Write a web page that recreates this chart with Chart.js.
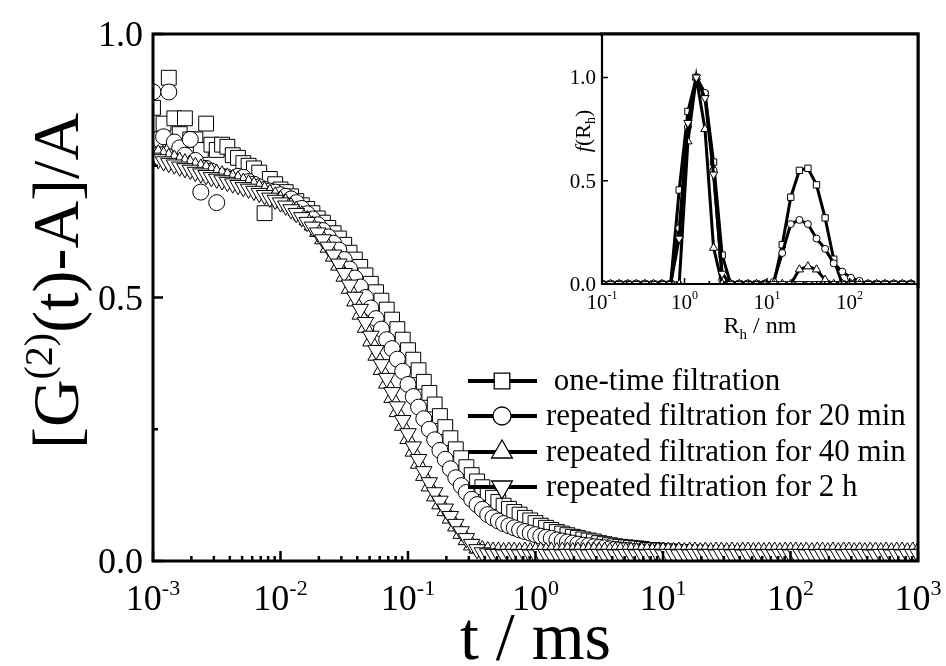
<!DOCTYPE html>
<html>
<head>
<meta charset="utf-8">
<script src="https://cdn.jsdelivr.net/npm/chart.js@4.4.1/dist/chart.umd.min.js"></script>
<style>
  html, body { margin: 0; padding: 0; background: #fff; }
  #wrap { position: relative; width: 946px; height: 666px; overflow: hidden; }
  canvas { position: absolute; }
  #mainChart { left: 0; top: 0; }
  #insetChart { left: 530px; top: 20px; }
</style>
</head>
<body>
<div id="wrap">
  <canvas id="mainChart" width="946" height="666"></canvas>
  <canvas id="insetChart" width="400" height="340"></canvas>
</div>
<script>
// ------------------------------------------------------------
// data : main plot, correlation function vs. t (ms)
// ------------------------------------------------------------
const tValues = [
  0.00100, 0.00110, 0.00121, 0.00133, 0.00147, 0.00162, 0.00178, 0.00196, 0.00215, 0.00237, 0.00261, 0.00287, 0.00316, 0.00348, 0.00383, 0.00422, 0.00464, 0.00511, 0.00562, 0.00619, 0.00681, 0.00750, 0.00825, 0.00909,
  0.0100, 0.0110, 0.0121, 0.0133, 0.0147, 0.0162, 0.0178, 0.0196, 0.0215, 0.0237, 0.0261, 0.0287, 0.0316, 0.0348, 0.0383, 0.0422, 0.0464, 0.0511, 0.0562, 0.0619, 0.0681, 0.0750, 0.0825, 0.0909,
  0.100, 0.110, 0.121, 0.133, 0.147, 0.162, 0.178, 0.196, 0.215, 0.237, 0.261, 0.287, 0.316, 0.348, 0.383, 0.422, 0.464, 0.511, 0.562, 0.619, 0.681, 0.750, 0.825, 0.909,
  1.00, 1.10, 1.21, 1.33, 1.47, 1.62, 1.78, 1.96, 2.15, 2.37, 2.61, 2.87, 3.16, 3.48, 3.83, 4.22, 4.64, 5.11, 5.62, 6.19, 6.81, 7.50, 8.25, 9.09,
  10.0, 11.0, 12.1, 13.3, 14.7, 16.2, 17.8, 19.6, 21.5, 23.7, 26.1, 28.7, 31.6, 34.8, 38.3, 42.2, 46.4, 51.1, 56.2, 61.9, 68.1, 75.0, 82.5, 90.9,
  100, 110, 121, 133, 147, 162, 178, 196, 215, 237, 261, 287, 316, 348, 383, 422, 464, 511, 562, 619, 681, 750, 825, 909,
  1000
];

const gOneTime = [
  0.86, 0.80, 0.83, 0.917, 0.84, 0.81, 0.84, 0.80, 0.80, 0.78, 0.83, 0.79, 0.78, 0.79, 0.786, 0.77, 0.765, 0.755, 0.75, 0.745, 0.737, 0.66, 0.725, 0.715,
  0.705, 0.70, 0.692, 0.683, 0.675, 0.668, 0.66, 0.65, 0.642, 0.632, 0.622, 0.612, 0.60, 0.585, 0.572, 0.558, 0.542, 0.526, 0.51, 0.494, 0.477, 0.458, 0.44, 0.42,
  0.40, 0.382, 0.362, 0.34, 0.319, 0.297, 0.275, 0.254, 0.233, 0.212, 0.195, 0.178, 0.163, 0.151, 0.14, 0.129, 0.12, 0.112, 0.105, 0.099, 0.093, 0.088, 0.082, 0.077,
  0.072, 0.067, 0.063, 0.059, 0.055, 0.052, 0.049, 0.046, 0.044, 0.041, 0.039, 0.037, 0.034, 0.032, 0.030, 0.028, 0.027, 0.026, 0.025, 0.024, 0.023, 0.021, 0.021, 0.020,
  0.019, 0.018, 0.018, 0.017, 0.017, 0.016, 0.016, 0.016, 0.015, 0.015, 0.015, 0.014, 0.015, 0.014, 0.014, 0.013, 0.014, 0.013, 0.013, 0.013, 0.012, 0.013, 0.012, 0.012,
  0.013, 0.012, 0.012, 0.011, 0.012, 0.012, 0.011, 0.012, 0.011, 0.011, 0.012, 0.011, 0.011, 0.011, 0.010, 0.011, 0.011, 0.010, 0.011, 0.011, 0.010, 0.011, 0.010, 0.011,
  0.011
];

const g20min = [
  0.89, 0.80, 0.805, 0.89, 0.795, 0.784, 0.77, 0.80, 0.76, 0.70, 0.745, 0.74, 0.68, 0.73, 0.728, 0.725, 0.73, 0.728, 0.72, 0.715, 0.71, 0.705, 0.702, 0.70,
  0.695, 0.692, 0.687, 0.68, 0.669, 0.659, 0.649, 0.638, 0.627, 0.615, 0.603, 0.59, 0.572, 0.554, 0.537, 0.52, 0.50, 0.48, 0.46, 0.44, 0.42, 0.403, 0.383, 0.36,
  0.335, 0.312, 0.292, 0.27, 0.25, 0.23, 0.21, 0.193, 0.175, 0.158, 0.143, 0.13, 0.117, 0.107, 0.098, 0.088, 0.082, 0.076, 0.071, 0.067, 0.063, 0.059, 0.056, 0.053,
  0.050, 0.047, 0.045, 0.043, 0.040, 0.038, 0.036, 0.034, 0.032, 0.030, 0.029, 0.027, 0.026, 0.025, 0.023, 0.022, 0.021, 0.020, 0.018, 0.018, 0.017, 0.016, 0.015, 0.015,
  0.014, 0.014, 0.013, 0.013, 0.012, 0.013, 0.012, 0.012, 0.011, 0.012, 0.011, 0.011, 0.012, 0.011, 0.010, 0.011, 0.011, 0.010, 0.011, 0.010, 0.010, 0.011, 0.010, 0.010,
  0.011, 0.010, 0.010, 0.009, 0.010, 0.010, 0.009, 0.010, 0.010, 0.011, 0.010, 0.010, 0.009, 0.010, 0.010, 0.009, 0.010, 0.010, 0.011, 0.010, 0.010, 0.009, 0.010, 0.010,
  0.010
];

const g40min = [
  0.775, 0.772, 0.768, 0.765, 0.762, 0.758, 0.755, 0.752, 0.748, 0.745, 0.742, 0.738, 0.735, 0.732, 0.728, 0.725, 0.722, 0.718, 0.715, 0.711, 0.706, 0.702, 0.697, 0.692,
  0.685, 0.679, 0.672, 0.665, 0.656, 0.647, 0.637, 0.625, 0.611, 0.595, 0.578, 0.561, 0.54, 0.517, 0.493, 0.468, 0.443, 0.417, 0.39, 0.363, 0.337, 0.31, 0.283, 0.257,
  0.232, 0.208, 0.185, 0.162, 0.142, 0.123, 0.108, 0.095, 0.081, 0.066, 0.052, 0.04, 0.030, 0.024, 0.021, 0.019, 0.018, 0.018, 0.017, 0.018, 0.018, 0.017, 0.018, 0.017,
  0.018, 0.018, 0.017, 0.018, 0.017, 0.018, 0.018, 0.017, 0.018, 0.017, 0.018, 0.018, 0.017, 0.018, 0.017, 0.018, 0.018, 0.017, 0.018, 0.017, 0.018, 0.018, 0.017, 0.018,
  0.018, 0.018, 0.017, 0.018, 0.017, 0.018, 0.018, 0.017, 0.018, 0.017, 0.018, 0.018, 0.017, 0.018, 0.017, 0.018, 0.018, 0.017, 0.018, 0.017, 0.018, 0.018, 0.017, 0.018,
  0.018, 0.018, 0.017, 0.018, 0.017, 0.018, 0.018, 0.017, 0.018, 0.017, 0.018, 0.018, 0.017, 0.018, 0.017, 0.018, 0.018, 0.017, 0.018, 0.017, 0.018, 0.018, 0.017, 0.018,
  0.018
];

const g2h = [
  0.765, 0.762, 0.758, 0.755, 0.752, 0.748, 0.745, 0.742, 0.738, 0.735, 0.732, 0.728, 0.725, 0.722, 0.719, 0.716, 0.713, 0.709, 0.706, 0.702, 0.698, 0.694, 0.689, 0.685,
  0.68, 0.674, 0.667, 0.66, 0.652, 0.643, 0.634, 0.623, 0.61, 0.596, 0.581, 0.564, 0.546, 0.524, 0.501, 0.478, 0.453, 0.427, 0.40, 0.373, 0.347, 0.32, 0.293, 0.267,
  0.242, 0.217, 0.193, 0.17, 0.149, 0.13, 0.114, 0.099, 0.085, 0.07, 0.056, 0.043, 0.032, 0.022, 0.016, 0.014, 0.013, 0.013, 0.012, 0.013, 0.013, 0.012, 0.013, 0.012,
  0.012, 0.013, 0.013, 0.012, 0.013, 0.012, 0.013, 0.013, 0.012, 0.013, 0.012, 0.013, 0.013, 0.012, 0.013, 0.012, 0.012, 0.013, 0.013, 0.012, 0.013, 0.012, 0.013, 0.013,
  0.012, 0.013, 0.013, 0.012, 0.013, 0.012, 0.013, 0.013, 0.012, 0.013, 0.012, 0.013, 0.013, 0.012, 0.013, 0.012, 0.012, 0.013, 0.013, 0.012, 0.013, 0.012, 0.013, 0.013,
  0.012, 0.013, 0.013, 0.012, 0.013, 0.012, 0.013, 0.013, 0.012, 0.013, 0.012, 0.013, 0.013, 0.012, 0.013, 0.012, 0.012, 0.013, 0.013, 0.012, 0.013, 0.012, 0.013, 0.013,
  0.013
];

// ------------------------------------------------------------
// data : inset, size distribution f(Rh) vs. Rh (nm)
// ------------------------------------------------------------
const rhValues = [
  0.100, 0.127, 0.161, 0.205, 0.260, 0.331, 0.420, 0.534, 0.679, 0.862,
  1.10, 1.39, 1.77, 2.25, 2.86, 3.63, 4.61, 5.86, 7.45, 9.46,
  12.0, 15.3, 19.4, 24.7, 31.3, 39.8, 50.6, 64.3, 81.7, 104,
  132, 168, 213, 270, 344, 437, 555
];
const fOneTime = [0, 0, 0, 0, 0, 0, 0, 0, 0, 0.455, 0.835, 1.0, 0.92, 0.59, 0.14, 0, 0, 0, 0, 0, 0, 0.19, 0.42, 0.55, 0.56, 0.48, 0.32, 0.12, 0, 0, 0, 0, 0, 0, 0, 0, 0];
const f20min   = [0, 0, 0, 0, 0, 0, 0, 0, 0, 0.27, 0.76, 1.0, 0.925, 0.55, 0.02, 0, 0, 0, 0, 0, 0.01, 0.15, 0.29, 0.31, 0.29, 0.22, 0.17, 0.10, 0.06, 0.03, 0.015, 0, 0, 0, 0, 0, 0];
const f40min   = [0, 0, 0, 0, 0, 0, 0, 0, 0, 0, 0.69, 1.0, 0.75, 0.175, 0, 0, 0, 0, 0, 0, 0, 0, 0, 0.07, 0.085, 0.07, 0.02, 0, 0, 0, 0, 0, 0, 0, 0, 0, 0];
const f2h      = [0, 0, 0, 0, 0, 0, 0, 0, 0, 0.22, 0.78, 1.0, 0.90, 0.53, 0.05, 0, 0, 0, 0, 0, 0, 0, 0, 0, 0, 0, 0, 0, 0, 0, 0, 0, 0, 0, 0, 0, 0];

// ------------------------------------------------------------
// labels / ticks
// ------------------------------------------------------------
const seriesLabels = [
  "one-time filtration",
  "repeated filtration for 20 min",
  "repeated filtration for 40 min",
  "repeated filtration for 2 h",
];
const xTickExps = [-3, -2, -1, 0, 1, 2, 3];
const yTickValues = [0, 0.5, 1.0];
const yTickLabels = ["0.0", "0.5", "1.0"];
const yMinorValues = [0.25, 0.75];
const insetXTickExps = [-1, 0, 1, 2];
const insetYTickValues = [0, 0.5, 1.0];
const insetYTickLabels = ["0.0", "0.5", "1.0"];

const SERIF = '"Liberation Serif", "Times New Roman", Times, serif';

// marker looks (same order as seriesLabels)
const markerStyles = [
  { style: "rect", rotation: 0, radius: 10.5, legendRadius: 11, insetRadius: 4.5 },
  { style: "circle", rotation: 0, radius: 8, legendRadius: 9, insetRadius: 3.5 },
  { style: "triangle", rotation: 0, radius: 9.5, legendRadius: 12, insetRadius: 4.8 },
  { style: "triangle", rotation: 180, radius: 9.5, legendRadius: 12, insetRadius: 4.8 },
];

// ------------------------------------------------------------
// helpers
// ------------------------------------------------------------
function toPoints(xs, ys) {
  return xs.map((x, i) => ({ x, y: ys[i] }));
}

function drawMarker(ctx, style, rotation, cx, cy, r) {
  ctx.beginPath();
  if (style === "rect") {
    const s = r * Math.SQRT1_2;
    ctx.rect(cx - s, cy - s, 2 * s, 2 * s);
  } else if (style === "circle") {
    ctx.arc(cx, cy, r, 0, Math.PI * 2);
  } else {
    const sg = rotation ? -1 : 1;
    ctx.moveTo(cx, cy - sg * r);
    ctx.lineTo(cx + r * 0.866, cy + sg * r * 0.5);
    ctx.lineTo(cx - r * 0.866, cy + sg * r * 0.5);
    ctx.closePath();
  }
  ctx.fillStyle = "#fff";
  ctx.fill();
  ctx.stroke();
}

// "10" + superscript, centred on cx
function drawPower(ctx, exp, cx, baseY, size, supSize, rise) {
  const base = "10";
  const sup = String(exp);
  ctx.font = size + "px " + SERIF;
  const wb = ctx.measureText(base).width;
  ctx.font = supSize + "px " + SERIF;
  const ws = ctx.measureText(sup).width;
  const x0 = cx - (wb + ws) / 2;
  ctx.textAlign = "left";
  ctx.textBaseline = "alphabetic";
  ctx.font = size + "px " + SERIF;
  ctx.fillText(base, x0, baseY);
  ctx.font = supSize + "px " + SERIF;
  ctx.fillText(sup, x0 + wb, baseY - rise);
}

// pieces: [text, font, dy]  drawn left to right, centred on 0
function drawPieces(ctx, pieces) {
  let total = 0;
  pieces.forEach((p) => {
    ctx.font = p[1];
    total += ctx.measureText(p[0]).width;
  });
  let x = -total / 2;
  ctx.textAlign = "left";
  ctx.textBaseline = "alphabetic";
  pieces.forEach((p) => {
    ctx.font = p[1];
    ctx.fillText(p[0], x, p[2]);
    x += ctx.measureText(p[0]).width;
  });
}

// ------------------------------------------------------------
// main chart decorations (frame, inward ticks, labels, legend)
// ------------------------------------------------------------
const mainDecor = {
  id: "mainDecor",
  afterDraw(chart) {
    const { ctx, chartArea: a } = chart;
    const xs = chart.scales.x;
    const ys = chart.scales.y;
    ctx.save();
    ctx.strokeStyle = "#000";
    ctx.fillStyle = "#000";

    // ticks
    ctx.lineWidth = 2.5;
    ctx.beginPath();
    xTickExps.forEach((e) => {
      const px = xs.getPixelForValue(Math.pow(10, e));
      ctx.moveTo(px, a.bottom);
      ctx.lineTo(px, a.bottom - 10);
      if (e < 3) {
        for (let m = 2; m <= 9; m++) {
          const pm = xs.getPixelForValue(m * Math.pow(10, e));
          ctx.moveTo(pm, a.bottom);
          ctx.lineTo(pm, a.bottom - 5);
        }
      }
    });
    yTickValues.forEach((v) => {
      const py = ys.getPixelForValue(v);
      ctx.moveTo(a.left, py);
      ctx.lineTo(a.left + 10, py);
    });
    yMinorValues.forEach((v) => {
      const py = ys.getPixelForValue(v);
      ctx.moveTo(a.left, py);
      ctx.lineTo(a.left + 5, py);
    });
    ctx.stroke();

    // frame
    ctx.lineWidth = 3;
    ctx.strokeRect(a.left, a.top, a.right - a.left, a.bottom - a.top);

    // tick labels
    xTickExps.forEach((e) => {
      const px = xs.getPixelForValue(Math.pow(10, e));
      drawPower(ctx, e, px, 610, 36, 22, 15);
    });
    ctx.font = "36px " + SERIF;
    ctx.textAlign = "right";
    ctx.textBaseline = "alphabetic";
    yTickValues.forEach((v, i) => {
      const py = ys.getPixelForValue(v);
      ctx.fillText(yTickLabels[i], a.left - 10, py + 12);
    });

    // axis titles
    ctx.save();
    ctx.translate((a.left + a.right) / 2, 659);
    drawPieces(ctx, [["t / ms", "68px " + SERIF, 0]]);
    ctx.restore();

    ctx.save();
    ctx.translate(78, 281);
    ctx.rotate(-Math.PI / 2);
    drawPieces(ctx, [
      ["[G", "66px " + SERIF, 0],
      ["(2)", "40px " + SERIF, -26],
      ["(t)-A]/A", "66px " + SERIF, 0],
    ]);
    ctx.restore();

    // legend
    const rows = [381, 416, 452, 487];
    rows.forEach((ry, i) => {
      ctx.lineWidth = 4;
      ctx.beginPath();
      ctx.moveTo(468, ry);
      ctx.lineTo(537, ry);
      ctx.stroke();
      ctx.lineWidth = 1.3;
      const m = markerStyles[i];
      drawMarker(ctx, m.style, m.rotation, 502, ry, m.legendRadius);
      ctx.fillStyle = "#000";
      ctx.font = "31px " + SERIF;
      ctx.textAlign = "left";
      ctx.textBaseline = "middle";
      ctx.fillText((i === 0 ? " " : "") + seriesLabels[i], 546, ry + 1);
    });
    ctx.restore();
  },
};

const mainValues = [gOneTime, g20min, g40min, g2h];
const mainOrder = [3, 2, 1, 0];

const mainChart = new Chart(document.getElementById("mainChart"), {
  type: "scatter",
  data: {
    datasets: mainValues.map((vals, i) => ({
      label: seriesLabels[i],
      data: toPoints(tValues, vals),
      showLine: false,
      pointStyle: markerStyles[i].style,
      pointRotation: markerStyles[i].rotation,
      pointRadius: markerStyles[i].radius,
      pointBackgroundColor: "#fff",
      pointBorderColor: "#000",
      pointBorderWidth: 1,
      clip: 0,
      order: mainOrder[i],
    })),
  },
  options: {
    responsive: false,
    animation: false,
    events: [],
    layout: { padding: { left: 153, right: 28, top: 34, bottom: 105 } },
    plugins: { legend: { display: false }, tooltip: { enabled: false } },
    scales: {
      x: { type: "logarithmic", min: 0.001, max: 1000, display: false },
      y: { type: "linear", min: 0, max: 1.0, display: false },
    },
  },
  plugins: [mainDecor],
});

// ------------------------------------------------------------
// inset chart (own canvas at left 530, top 20)
// ------------------------------------------------------------
const insetDecor = {
  id: "insetDecor",
  beforeDraw(chart) {
    const { ctx, chartArea: a } = chart;
    ctx.save();
    ctx.fillStyle = "#fff";
    ctx.fillRect(a.left, a.top, a.right - a.left, a.bottom - a.top);
    ctx.restore();
  },
  afterDraw(chart) {
    const { ctx, chartArea: a } = chart;
    const xs = chart.scales.x;
    const ys = chart.scales.y;
    ctx.save();
    ctx.strokeStyle = "#000";
    ctx.fillStyle = "#000";

    ctx.lineWidth = 1.5;
    ctx.beginPath();
    insetXTickExps.forEach((e) => {
      const px = xs.getPixelForValue(Math.pow(10, e));
      ctx.moveTo(px, a.bottom);
      ctx.lineTo(px, a.bottom - 6);
      for (let m = 2; m <= 9; m++) {
        const v = m * Math.pow(10, e);
        if (v > xs.max) break;
        const pm = xs.getPixelForValue(v);
        ctx.moveTo(pm, a.bottom);
        ctx.lineTo(pm, a.bottom - 3);
      }
    });
    insetYTickValues.forEach((v) => {
      const py = ys.getPixelForValue(v);
      ctx.moveTo(a.left, py);
      ctx.lineTo(a.left + 6, py);
    });
    ctx.stroke();

    // inset axes (left + bottom)
    ctx.lineWidth = 2.2;
    ctx.beginPath();
    ctx.moveTo(a.left, a.top);
    ctx.lineTo(a.left, a.bottom);
    ctx.lineTo(a.right, a.bottom);
    ctx.stroke();

    // main frame top / right edges again (they sit on the inset border)
    ctx.lineWidth = 3;
    ctx.beginPath();
    ctx.moveTo(a.left - 2, a.top);
    ctx.lineTo(a.right, a.top);
    ctx.lineTo(a.right, a.bottom + 4);
    ctx.stroke();

    // tick labels
    insetXTickExps.forEach((e) => {
      const px = xs.getPixelForValue(Math.pow(10, e));
      drawPower(ctx, e, px, 289, 21, 12, 10);
    });
    ctx.font = "21px " + SERIF;
    ctx.textAlign = "right";
    ctx.textBaseline = "alphabetic";
    insetYTickValues.forEach((v, i) => {
      const py = ys.getPixelForValue(v);
      ctx.fillText(insetYTickLabels[i], a.left - 6, py + 7);
    });

    // titles
    ctx.save();
    ctx.translate(760 - 530, 333 - 20);
    drawPieces(ctx, [
      ["R", "24px " + SERIF, 0],
      ["h", "15px " + SERIF, 6],
      [" / nm", "24px " + SERIF, 0],
    ]);
    ctx.restore();

    ctx.save();
    ctx.translate(590 - 530, 131 - 20);
    ctx.rotate(-Math.PI / 2);
    drawPieces(ctx, [
      ["f", "italic 22px " + SERIF, 0],
      ["(R", "22px " + SERIF, 0],
      ["h", "14px " + SERIF, 5],
      [")", "22px " + SERIF, 0],
    ]);
    ctx.restore();

    ctx.restore();
  },
};

const insetValues = [fOneTime, f20min, f40min, f2h];

const insetChart = new Chart(document.getElementById("insetChart"), {
  type: "scatter",
  data: {
    datasets: insetValues.map((vals, i) => ({
      label: seriesLabels[i],
      data: toPoints(rhValues, vals),
      showLine: true,
      borderColor: "#000",
      borderWidth: 3,
      pointStyle: markerStyles[i].style,
      pointRotation: markerStyles[i].rotation,
      pointRadius: markerStyles[i].insetRadius,
      pointBackgroundColor: "#fff",
      pointBorderColor: "#000",
      pointBorderWidth: 1,
      clip: 0,
      order: mainOrder[i],
    })),
  },
  options: {
    responsive: false,
    animation: false,
    events: [],
    layout: { padding: { left: 72, right: 12, top: 14, bottom: 76 } },
    plugins: { legend: { display: false }, tooltip: { enabled: false } },
    scales: {
      x: { type: "logarithmic", min: 0.1, max: 676, display: false },
      y: { type: "linear", min: 0, max: 1.21, display: false },
    },
  },
  plugins: [insetDecor],
});
</script>
</body>
</html>
